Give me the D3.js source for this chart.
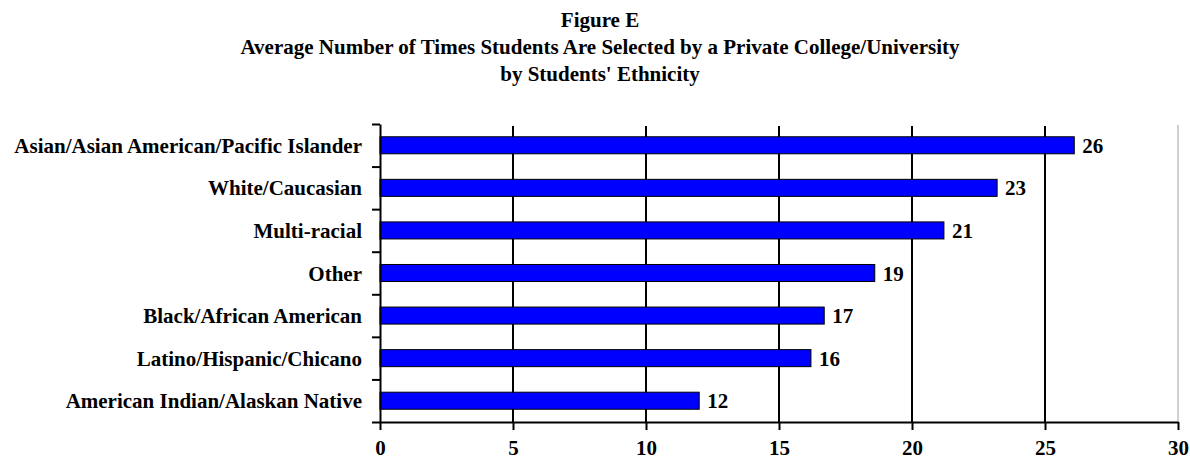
<!DOCTYPE html>
<html>
<head>
<meta charset="utf-8">
<script src="https://cdn.jsdelivr.net/npm/d3@7"></script>
<style>
	body { margin: 0; background: #fff; }
	svg text { font-family: "Liberation Serif", "Times New Roman", Times, serif; font-weight: bold; fill: #000; }
</style>
</head>
<body>
<div id="chart"></div>
<script>
// chart data
// ==========
var titleLines = [
	"Figure E",
	"Average Number of Times Students Are Selected by a Private College/University",
	"by Students' Ethnicity"
];
var ethnicities = [
	"Asian/Asian American/Pacific Islander",
	"White/Caucasian",
	"Multi-racial",
	"Other",
	"Black/African American",
	"Latino/Hispanic/Chicano",
	"American Indian/Alaskan Native"
];
var avgSelected = [26.1, 23.2, 21.2, 18.6, 16.7, 16.2, 12.0];
var xTicks = [0, 5, 10, 15, 20, 25, 30];

var svgWidth = 1190;
var svgHeight = 459;
var fontSize = 21;

var margin = { top: 124, right: 12, bottom: 37, left: 380 };
var width = svgWidth - margin.left - margin.right;
var height = svgHeight - margin.top - margin.bottom;

var svg = d3.select("#chart")
	.append("svg")
	.attr("width", svgWidth)
	.attr("height", svgHeight);

// title
svg.append("g")
	.selectAll("text")
	.data(titleLines)
	.enter()
	.append("text")
	.attr("x", 600)
	.attr("y", (d, i) => 27 + i * 27)
	.attr("text-anchor", "middle")
	.attr("font-size", fontSize)
	.text(d => d);

var chartGroup = svg.append("g")
	.attr("transform", `translate(${margin.left}, ${margin.top})`);

// scales
var xScale = d3.scaleLinear()
	.domain([0, 30])
	.range([0, width]);

var yScale = d3.scaleBand()
	.domain(ethnicities)
	.range([0, height])
	.paddingInner(0.6)
	.paddingOuter(0.3);

// edges between categories, for the y tick marks
var yEdge = d3.scaleLinear()
	.domain([0, ethnicities.length])
	.range([0, height]);

// light plot-area border on the right
chartGroup.append("line")
	.attr("x1", width).attr("x2", width)
	.attr("y1", 1).attr("y2", height)
	.attr("stroke", "#c0c0c0")
	.attr("stroke-width", 1.5);

// vertical gridlines
chartGroup.append("g")
	.selectAll("line")
	.data(xTicks.filter(d => d > 0 && d < 30))
	.enter()
	.append("line")
	.attr("x1", d => xScale(d))
	.attr("x2", d => xScale(d))
	.attr("y1", 2)
	.attr("y2", height)
	.attr("stroke", "#000")
	.attr("stroke-width", 2);

// bars
chartGroup.selectAll("rect")
	.data(avgSelected)
	.enter()
	.append("rect")
	.attr("x", 0)
	.attr("y", (d, i) => yScale(ethnicities[i]))
	.attr("width", d => xScale(d))
	.attr("height", yScale.bandwidth())
	.attr("fill", "#0000ff")
	.attr("stroke", "#000")
	.attr("stroke-width", 1);

// value labels
chartGroup.selectAll(".val")
	.data(avgSelected)
	.enter()
	.append("text")
	.attr("class", "val")
	.attr("x", d => xScale(d) + 8)
	.attr("y", (d, i) => yScale(ethnicities[i]) + yScale.bandwidth() / 2)
	.attr("dy", "0.36em")
	.attr("font-size", fontSize)
	.text(d => Math.round(d));

// x axis
var xAxis = chartGroup.append("g")
	.attr("transform", `translate(0, ${height})`)
	.call(d3.axisBottom(xScale).tickValues(xTicks).tickSize(8).tickSizeOuter(0).tickPadding(10));
xAxis.select(".domain").attr("stroke-width", 2);
xAxis.selectAll(".tick line").attr("stroke-width", 2);
xAxis.selectAll("text")
	.attr("font-size", fontSize)
	.attr("fill", "#000");

// y axis: tick marks at the edges
var yAxis = chartGroup.append("g")
	.call(d3.axisLeft(yEdge).ticks(ethnicities.length).tickSize(8).tickSizeOuter(0).tickFormat(""));
yAxis.select(".domain").attr("stroke-width", 2);
yAxis.selectAll(".tick line").attr("stroke-width", 2);

// y axis: category labels
var yLabels = chartGroup.append("g")
	.call(d3.axisLeft(yScale).tickSize(0).tickPadding(18));
yLabels.select(".domain").remove();
yLabels.selectAll("text")
	.attr("font-size", fontSize)
	.attr("fill", "#000")
	.attr("dy", "0.36em");
</script>
</body>
</html>
